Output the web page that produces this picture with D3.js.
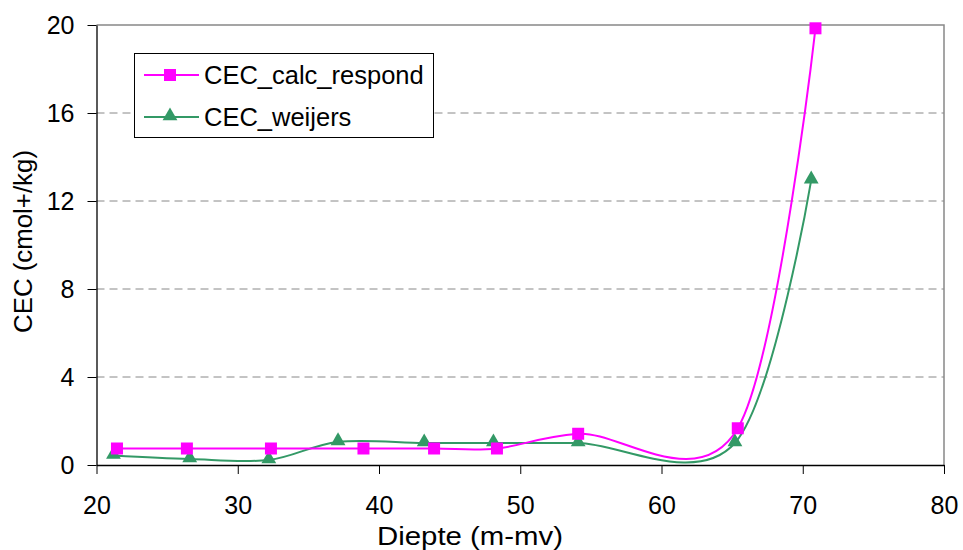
<!DOCTYPE html>
<html>
<head>
<meta charset="utf-8">
<script src="https://cdn.jsdelivr.net/npm/d3@7"></script>
<style>
body { margin: 0; background: #fff; }
text { font-family: "Liberation Sans", Arial, sans-serif; }
</style>
</head>
<body>
<svg width="963" height="550"></svg>
<script>
// depth (m-mv) and CEC values
var depthCalc = [21.45, 26.4, 32.35, 38.9, 43.9, 48.35, 54.1, 65.4, 70.9];
var cecCalc   = [0.75, 0.75, 0.75, 0.75, 0.75, 0.75, 1.42, 1.67, 19.85];
var depthWeijers = [21.2, 26.6, 32.2, 37.1, 43.2, 48.1, 54.1, 65.2, 70.6];
var cecWeijers   = [0.43, 0.27, 0.23, 1.05, 1.0, 1.0, 1.0, 1.0, 12.95];
var xTicks = [20, 30, 40, 50, 60, 70, 80];
var yTicks = [0, 4, 8, 12, 16, 20];

var svg = d3.select("svg");
var pLeft = 96.5, pRight = 944, pTop = 25, pBottom = 465;

var x = d3.scaleLinear().domain([20, 80]).range([pLeft, pRight]);
var y = d3.scaleLinear().domain([0, 20]).range([pBottom, pTop]);

// grid lines
svg.selectAll(".grid")
  .data(yTicks.filter(function(d) { return d > 0 && d < 20; }))
  .enter().append("line")
  .attr("x1", pLeft).attr("x2", pRight)
  .attr("y1", function(d) { return y(d); })
  .attr("y2", function(d) { return y(d); })
  .style("stroke", "#888")
  .style("stroke-width", 1)
  .style("stroke-dasharray", "8,5");

// top and right border
svg.append("path")
  .attr("d", "M" + pLeft + "," + pTop + "H" + pRight + "V" + pBottom)
  .style("fill", "none")
  .style("stroke", "#888")
  .style("stroke-width", 1.5);

var xAxis = svg.append("g")
  .attr("transform", "translate(0," + pBottom + ")")
  .call(d3.axisBottom(x).tickValues(xTicks).tickSize(9).tickSizeOuter(0));
var yAxis = svg.append("g")
  .attr("transform", "translate(" + pLeft + ",0)")
  .call(d3.axisLeft(y).tickValues(yTicks).tickSize(9).tickSizeOuter(0));

[xAxis, yAxis].forEach(function(g) {
  g.select(".domain").style("stroke", "#000").style("stroke-width", 1.3);
  g.selectAll(".tick line").style("stroke", "#000").style("stroke-width", 1);
  g.selectAll(".tick text").style("font-size", "25px").style("fill", "#000")
    .style("font-family", "'Liberation Sans', Arial, sans-serif");
});
yAxis.selectAll(".tick text").attr("x", -22);
xAxis.selectAll(".tick text").attr("y", 49).attr("dy", 0);

svg.append("text")
  .attr("x", 470).attr("y", 545)
  .attr("text-anchor", "middle")
  .attr("textLength", 186).attr("lengthAdjust", "spacingAndGlyphs")
  .style("font-size", "26px")
  .text("Diepte (m-mv)");

svg.append("text")
  .attr("transform", "translate(32,241.5) rotate(-90)")
  .attr("text-anchor", "middle")
  .attr("textLength", 183).attr("lengthAdjust", "spacingAndGlyphs")
  .style("font-size", "26px")
  .text("CEC (cmol+/kg)");

var line = d3.line()
  .x(function(d) { return x(d[0]); })
  .y(function(d) { return y(d[1]); })
  .curve(d3.curveCatmullRom.alpha(0));

var calcPts = d3.zip(depthCalc, cecCalc);
var weijPts = d3.zip(depthWeijers, cecWeijers);

var magenta = "#ff00ff", green = "#339966";

svg.append("path").datum(weijPts)
  .attr("d", line)
  .style("fill", "none").style("stroke", green).style("stroke-width", 2);
svg.append("path").datum(calcPts)
  .attr("d", line)
  .style("fill", "none").style("stroke", magenta).style("stroke-width", 2);

var tri = d3.symbol().type(d3.symbolTriangle).size(95);

svg.selectAll(".tri").data(weijPts).enter().append("path")
  .attr("d", tri)
  .attr("transform", function(d) { return "translate(" + x(d[0]) + "," + (y(d[1]) - 1) + ")"; })
  .style("fill", green);

svg.selectAll(".sq").data(calcPts).enter().append("rect")
  .attr("x", function(d) { return x(d[0]) - 6; })
  .attr("y", function(d) { return y(d[1]) - 6; })
  .attr("width", 12).attr("height", 12)
  .style("fill", magenta);

// legend
var lg = svg.append("g");
lg.append("rect")
  .attr("x", 134.5).attr("y", 53.5).attr("width", 299).attr("height", 84)
  .style("fill", "#fff").style("stroke", "#000").style("stroke-width", 1);

var legendNames = ["CEC_calc_respond", "CEC_weijers"];
var legendColors = [magenta, green];
legendNames.forEach(function(name, i) {
  var cy = 75 + i * 42;
  lg.append("line").attr("x1", 144).attr("x2", 199).attr("y1", cy).attr("y2", cy)
    .style("stroke", legendColors[i]).style("stroke-width", 2);
  if (i === 0) {
    lg.append("rect").attr("x", 164).attr("y", cy - 6).attr("width", 12).attr("height", 12)
      .style("fill", magenta);
  } else {
    lg.append("path").attr("d", tri).attr("transform", "translate(170," + (cy - 1) + ")")
      .style("fill", green);
  }
  lg.append("text").attr("x", 204).attr("y", cy).attr("dy", "0.36em")
    .style("font-size", "25.5px").text(name);
});
</script>
</body>
</html>
